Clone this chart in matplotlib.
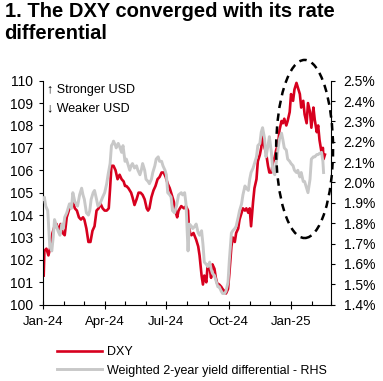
import matplotlib
matplotlib.use("Agg")
import matplotlib.pyplot as plt
import matplotlib.dates as mdates
from matplotlib.patches import Ellipse
from matplotlib.ticker import MultipleLocator, FuncFormatter
import pandas as pd

plt.rcParams['font.family'] = ['Liberation Sans', 'DejaVu Sans']

# DXY index (left axis)
dxy_dates = [
    "2024-01-02", "2024-01-03", "2024-01-06", "2024-01-09", "2024-01-12", "2024-01-15",
    "2024-01-18", "2024-01-21", "2024-01-24", "2024-01-27", "2024-01-30", "2024-02-02",
    "2024-02-05", "2024-02-09", "2024-02-14", "2024-02-17", "2024-02-20", "2024-02-23",
    "2024-02-26", "2024-02-29", "2024-03-02", "2024-03-05", "2024-03-08", "2024-03-11",
    "2024-03-14", "2024-03-17", "2024-03-20", "2024-03-23", "2024-03-26", "2024-03-29",
    "2024-04-01", "2024-04-04", "2024-04-07", "2024-04-09", "2024-04-11", "2024-04-14",
    "2024-04-17", "2024-04-20", "2024-04-23", "2024-04-26", "2024-04-29", "2024-05-01",
    "2024-05-03", "2024-05-06", "2024-05-10", "2024-05-12", "2024-05-15", "2024-05-18",
    "2024-05-21", "2024-05-24", "2024-05-27", "2024-05-30", "2024-06-02", "2024-06-04",
    "2024-06-06", "2024-06-09", "2024-06-12", "2024-06-15", "2024-06-18", "2024-06-21",
    "2024-06-24", "2024-06-27", "2024-06-30", "2024-07-03", "2024-07-06", "2024-07-09",
    "2024-07-12", "2024-07-15", "2024-07-17", "2024-07-19", "2024-07-23", "2024-07-27",
    "2024-07-30", "2024-08-02", "2024-08-03", "2024-08-05", "2024-08-07", "2024-08-10",
    "2024-08-14", "2024-08-17", "2024-08-19", "2024-08-22", "2024-08-24", "2024-08-26",
    "2024-08-29", "2024-08-31", "2024-09-03", "2024-09-05", "2024-09-07", "2024-09-10",
    "2024-09-12", "2024-09-14", "2024-09-17", "2024-09-20", "2024-09-22", "2024-09-25",
    "2024-09-27", "2024-09-30", "2024-10-02", "2024-10-05", "2024-10-07", "2024-10-10",
    "2024-10-12", "2024-10-15", "2024-10-17", "2024-10-20", "2024-10-22", "2024-10-25",
    "2024-10-27", "2024-10-30", "2024-11-01", "2024-11-03", "2024-11-06", "2024-11-08",
    "2024-11-11", "2024-11-13", "2024-11-16", "2024-11-18", "2024-11-20", "2024-11-23",
    "2024-11-25", "2024-11-28", "2024-11-30", "2024-12-03", "2024-12-05", "2024-12-08",
    "2024-12-10", "2024-12-13", "2024-12-15", "2024-12-18", "2024-12-20", "2024-12-22",
    "2024-12-25", "2024-12-27", "2024-12-30", "2025-01-01", "2025-01-04", "2025-01-06",
    "2025-01-09", "2025-01-11", "2025-01-14", "2025-01-16", "2025-01-19", "2025-01-21",
    "2025-01-24", "2025-01-26", "2025-01-29", "2025-01-31", "2025-02-03", "2025-02-05",
    "2025-02-08", "2025-02-10", "2025-02-12", "2025-02-15", "2025-02-17", "2025-02-18",
    "2025-02-20",
]
dxy_values = [
    101.3, 102.4, 102.5, 102.2, 102.6, 103.2,
    103.5, 103.6, 103.3, 103.6, 103.2, 103.1,
    103.9, 104.3, 104.6, 104.3, 104.2, 103.9,
    103.8, 103.9, 103.8, 103.4, 102.8, 102.8,
    103.3, 103.5, 104.2, 104.3, 104.5, 104.3,
    104.2, 104.2, 104.3, 105.2, 106.2, 106.2,
    106.0, 105.6, 105.8, 105.6, 105.5, 105.3,
    105.3, 105.2, 105.0, 104.8, 104.45, 104.7,
    105.0, 105.0, 104.9, 104.7, 104.3, 104.2,
    104.3, 104.8, 105.1, 105.3, 105.6, 105.7,
    105.9, 105.9, 105.7, 105.4, 105.2, 104.9,
    104.6, 104.1, 103.9, 104.2, 104.4, 104.3,
    104.4, 104.2, 103.6, 103.2, 103.1, 103.2,
    102.9, 102.6, 102.2, 101.3, 100.9, 101.3,
    101.0, 101.8, 101.6, 101.2, 101.8, 101.6,
    101.2, 100.95, 100.9, 100.8, 100.7, 100.6,
    100.5, 100.7, 101.4, 102.6, 103.0, 102.8,
    103.2, 103.4, 103.8, 104.1, 104.3, 104.2,
    104.3, 104.1, 104.3, 103.5, 104.6, 105.2,
    105.6, 106.4, 106.7, 107.0, 107.5, 107.0,
    106.8, 106.2, 105.9, 105.9, 106.3, 106.6,
    106.9, 107.2, 107.8, 108.2, 108.1, 108.3,
    108.0, 108.2, 108.6, 109.4, 109.1, 109.6,
    109.9, 109.7, 109.4, 108.8, 109.1, 108.5,
    108.1, 109.0, 108.6, 107.9, 108.8, 108.25,
    107.7, 108.0, 107.35, 106.8, 107.0, 106.5,
    106.7,
]

# weighted 2-year yield differential, % (right axis)
diff_dates = [
    "2024-01-02", "2024-01-03", "2024-01-05", "2024-01-08", "2024-01-11", "2024-01-14",
    "2024-01-16", "2024-01-18", "2024-01-20", "2024-01-23", "2024-01-26", "2024-01-29",
    "2024-01-31", "2024-02-02", "2024-02-05", "2024-02-09", "2024-02-12", "2024-02-14",
    "2024-02-17", "2024-02-21", "2024-02-24", "2024-02-27", "2024-02-29", "2024-03-02",
    "2024-03-05", "2024-03-08", "2024-03-10", "2024-03-12", "2024-03-15", "2024-03-17",
    "2024-03-20", "2024-03-22", "2024-03-25", "2024-03-29", "2024-04-01", "2024-04-04",
    "2024-04-06", "2024-04-09", "2024-04-11", "2024-04-13", "2024-04-14", "2024-04-17",
    "2024-04-18", "2024-04-21", "2024-04-23", "2024-04-26", "2024-04-28", "2024-05-01",
    "2024-05-03", "2024-05-05", "2024-05-08", "2024-05-10", "2024-05-12", "2024-05-15",
    "2024-05-18", "2024-05-20", "2024-05-23", "2024-05-25", "2024-05-27", "2024-05-30",
    "2024-06-01", "2024-06-04", "2024-06-06", "2024-06-09", "2024-06-11", "2024-06-14",
    "2024-06-16", "2024-06-19", "2024-06-21", "2024-06-24", "2024-06-26", "2024-06-29",
    "2024-07-01", "2024-07-03", "2024-07-06", "2024-07-08", "2024-07-10", "2024-07-13",
    "2024-07-16", "2024-07-19", "2024-07-23", "2024-07-25", "2024-07-28", "2024-07-30",
    "2024-08-02", "2024-08-04", "2024-08-07", "2024-08-09", "2024-08-12", "2024-08-14",
    "2024-08-17", "2024-08-19", "2024-08-22", "2024-08-24", "2024-08-26", "2024-08-29",
    "2024-08-31", "2024-09-03", "2024-09-05", "2024-09-07", "2024-09-10", "2024-09-12",
    "2024-09-15", "2024-09-17", "2024-09-20", "2024-09-22", "2024-09-25", "2024-09-27",
    "2024-09-30", "2024-10-02", "2024-10-05", "2024-10-07", "2024-10-10", "2024-10-12",
    "2024-10-15", "2024-10-17", "2024-10-20", "2024-10-22", "2024-10-25", "2024-10-27",
    "2024-10-30", "2024-11-01", "2024-11-03", "2024-11-06", "2024-11-08", "2024-11-11",
    "2024-11-13", "2024-11-16", "2024-11-18", "2024-11-20", "2024-11-23", "2024-11-25",
    "2024-11-28", "2024-11-30", "2024-12-03", "2024-12-05", "2024-12-08", "2024-12-10",
    "2024-12-13", "2024-12-15", "2024-12-18", "2024-12-20", "2024-12-22", "2024-12-25",
    "2024-12-27", "2024-12-30", "2025-01-01", "2025-01-04", "2025-01-06", "2025-01-09",
    "2025-01-11", "2025-01-14", "2025-01-16", "2025-01-19", "2025-01-21", "2025-01-24",
    "2025-01-26", "2025-01-29", "2025-01-31", "2025-02-03", "2025-02-05", "2025-02-08",
    "2025-02-10", "2025-02-12", "2025-02-15", "2025-02-17", "2025-02-18",
]
diff_values = [
    1.917, 1.928, 1.884, 1.862, 1.686, 1.664,
    1.730, 1.818, 1.796, 1.763, 1.741, 1.796,
    1.774, 1.829, 1.851, 1.895, 1.873, 1.950,
    1.906, 1.884, 1.939, 1.972, 1.939, 1.917,
    1.851, 1.840, 1.862, 1.917, 1.950, 1.961,
    1.917, 1.884, 1.895, 1.928, 1.950, 1.994,
    2.038, 2.093, 2.181, 2.192, 2.203, 2.181,
    2.170, 2.192, 2.176, 2.148, 2.181, 2.104,
    2.115, 2.093, 2.060, 2.082, 2.093, 2.071,
    2.082, 2.060, 2.038, 2.060, 2.093, 2.060,
    2.016, 2.005, 1.994, 2.016, 2.049, 2.082,
    2.115, 2.126, 2.104, 2.104, 2.082, 2.060,
    2.038, 1.950, 1.939, 1.928, 1.862, 1.851,
    1.884, 1.939, 1.950, 1.939, 1.950, 1.895,
    1.664, 1.796, 1.785, 1.774, 1.785, 1.796,
    1.752, 1.741, 1.763, 1.697, 1.609, 1.598,
    1.587, 1.609, 1.576, 1.554, 1.543, 1.521,
    1.488, 1.488, 1.466, 1.455, 1.455, 1.466,
    1.510, 1.620, 1.752, 1.763, 1.774, 1.785,
    1.829, 1.862, 1.895, 1.939, 1.983, 1.972,
    1.961, 2.016, 2.049, 2.071, 2.093, 2.126,
    2.181, 2.192, 2.247, 2.269, 2.214, 2.126,
    2.181, 2.225, 2.148, 2.060, 2.038, 2.093,
    2.170, 2.214, 2.242, 2.209, 2.170, 2.159,
    2.115, 2.104, 2.093, 2.082, 2.060, 2.049,
    2.060, 2.027, 2.049, 2.005, 2.005, 1.972,
    1.950, 2.016, 2.115, 2.126, 2.126, 2.137,
    2.137, 2.143, 2.148, 2.104, 2.049,
]

x_start = "2024-01-01"
x_end = "2025-03-01"

red = "#D7001E"
grey = "#C8C8C8"

fig = plt.figure(figsize=(3.83, 3.81), dpi=100)
ax = fig.add_axes([0.1123, 0.2003, 0.752, 0.588])
ax2 = ax.twinx()

line1, = ax.plot(pd.to_datetime(dxy_dates), dxy_values, color=red, lw=1.9, label="DXY")
line2, = ax2.plot(pd.to_datetime(diff_dates), diff_values, color=grey, lw=2.1,
                  label="Weighted 2-year yield differential - RHS")

ax.set_xlim(pd.Timestamp(x_start), pd.Timestamp(x_end))
ax.set_ylim(100, 110)
ax2.set_ylim(1.4, 2.5)
ax.yaxis.set_major_locator(MultipleLocator(1))
ax2.yaxis.set_major_locator(MultipleLocator(0.1))
ax2.yaxis.set_major_formatter(FuncFormatter(lambda v, p: "%.1f%%" % v))

ax.xaxis.set_major_locator(mdates.MonthLocator(bymonth=[1, 4, 7, 10]))
ax.xaxis.set_minor_locator(mdates.MonthLocator())
ax.xaxis.set_major_formatter(mdates.DateFormatter("%b-%y"))

for a in (ax, ax2):
    a.spines['top'].set_visible(False)
ax.spines['right'].set_visible(False)
ax2.spines['left'].set_visible(False)
ax2.spines['bottom'].set_visible(False)

ax.tick_params(axis='x', which='major', direction='inout', length=6, width=0.8,
               labelsize=9.5, pad=5)
ax.tick_params(axis='x', which='minor', direction='in', length=3, width=0.8)
ax.tick_params(axis='y', direction='out', length=3, width=0.8, labelsize=10, pad=4)
ax2.tick_params(axis='y', direction='out', length=3, width=0.8, labelsize=10, pad=6)

ax.text(0.014, 0.958, "\u2191 Stronger USD", transform=ax.transAxes, fontsize=9,
        va='center', ha='left')
ax.text(0.014, 0.878, "\u2193 Weaker USD", transform=ax.transAxes, fontsize=9,
        va='center', ha='left')

# dashed ellipse around the recent divergence
ell_center = mdates.date2num(pd.Timestamp("2025-01-21"))
ell = Ellipse((ell_center, 106.95), width=84, height=7.95, transform=ax.transData,
              fill=False, edgecolor='black', lw=1.8, linestyle=(0, (3, 2.2)),
              clip_on=False, zorder=10)
ax2.add_patch(ell)

fig.text(0.012, 0.995, "1. The DXY converged with its rate\ndifferential",
         fontsize=14.5, fontweight='bold', va='top', ha='left', linespacing=1.2)

fig.legend(handles=[line1, line2], loc='upper left', bbox_to_anchor=(0.149, 0.092),
           frameon=False, fontsize=9, handlelength=3.6, handletextpad=0.4,
           labelspacing=0.55, borderpad=0, borderaxespad=0)

fig.savefig("out.png", dpi=100)
